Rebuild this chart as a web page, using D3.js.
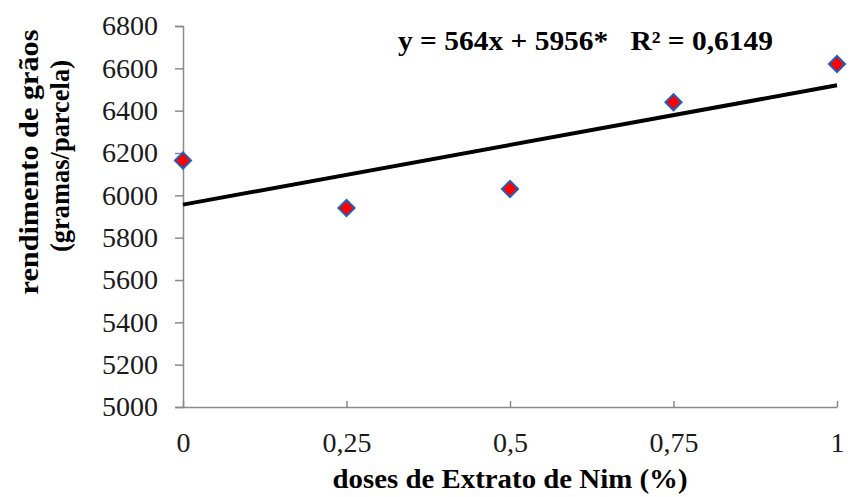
<!DOCTYPE html>
<html>
<head>
<meta charset="utf-8">
<script src="https://cdn.jsdelivr.net/npm/d3@7"></script>
<style>
  body { margin: 0; background: #fff; }
  svg { display: block; }
  svg text { font-family: "Liberation Serif", "Times New Roman", serif; }
</style>
</head>
<body>
<div id="chart"></div>
<script>
// data
const doses = [0, 0.25, 0.5, 0.75, 1];
const rendimento = [6165, 5940, 6030, 6440, 6620];
const xTicks = [0, 0.25, 0.5, 0.75, 1];
const xTickLabels = ["0", "0,25", "0,5", "0,75", "1"];
const yTicks = [5000, 5200, 5400, 5600, 5800, 6000, 6200, 6400, 6600, 6800];
const slope = 564;
const intercept = 5956;
const equationText = "y = 564x + 5956*   R² = 0,6149";

const width = 856, height = 497;
const margin = { top: 26, right: 19, bottom: 90, left: 183 };

const svg = d3.select("#chart").append("svg")
    .attr("width", width)
    .attr("height", height);

const x = d3.scaleLinear()
    .domain([0, 1])
    .range([margin.left, width - margin.right]);

const y = d3.scaleLinear()
    .domain([5000, 6800])
    .range([height - margin.bottom, margin.top]);

const axisColor = "#8a8a8a";

// y axis
const yAxis = svg.append("g")
    .attr("transform", "translate(" + margin.left + ",0)")
    .call(d3.axisLeft(y).tickValues(yTicks).tickFormat(d3.format("d")).tickSize(8).tickPadding(17));
yAxis.attr("font-family", null);
yAxis.select(".domain").attr("stroke", axisColor).attr("stroke-width", 1.5);
yAxis.selectAll(".tick line").attr("stroke", axisColor).attr("stroke-width", 1.5);
yAxis.selectAll(".tick text")
    .attr("font-size", 28)
    .attr("fill", "#1a1a1a");

// x axis (ticks pointing up)
const xAxis = svg.append("g")
    .attr("transform", "translate(0," + (height - margin.bottom) + ")")
    .call(d3.axisBottom(x).tickValues(xTicks).tickFormat((d, i) => xTickLabels[i]).tickSizeInner(-6).tickSizeOuter(0));
xAxis.attr("font-family", null);
xAxis.select(".domain").attr("stroke", axisColor).attr("stroke-width", 1.5);
xAxis.selectAll(".tick line").attr("stroke", axisColor).attr("stroke-width", 1.5);
xAxis.selectAll(".tick text")
    .attr("y", 45)
    .attr("dy", null)
    .attr("font-size", 28)
    .attr("fill", "#1a1a1a");

// trend line
svg.append("line")
    .attr("x1", x(0))
    .attr("y1", y(intercept))
    .attr("x2", x(1))
    .attr("y2", y(slope + intercept))
    .attr("stroke", "#000")
    .attr("stroke-width", 4);

// points
svg.selectAll(".pt")
    .data(doses)
    .join("path")
    .attr("class", "pt")
    .attr("d", d3.symbol(d3.symbolSquare, 130))
    .attr("transform", (d, i) => "translate(" + x(d) + "," + y(rendimento[i]) + ") rotate(45)")
    .attr("fill", "#ff0000")
    .attr("stroke", "#1f5fbf")
    .attr("stroke-width", 2);

// equation
svg.append("text")
    .attr("x", 398)
    .attr("y", 50)
    .attr("font-size", 27)
    .attr("font-weight", "bold")
    .attr("textLength", 375)
    .attr("lengthAdjust", "spacingAndGlyphs")
    .attr("xml:space", "preserve")
    .style("white-space", "pre")
    .text(equationText);

// x title
svg.append("text")
    .attr("x", 510)
    .attr("y", 488)
    .attr("text-anchor", "middle")
    .attr("font-size", 27)
    .attr("font-weight", "bold")
    .attr("textLength", 355)
    .attr("lengthAdjust", "spacingAndGlyphs")
    .text("doses de Extrato de Nim (%)");

// y title
svg.append("text")
    .attr("transform", "translate(38,162) rotate(-90)")
    .attr("text-anchor", "middle")
    .attr("font-size", 27)
    .attr("font-weight", "bold")
    .attr("textLength", 265)
    .attr("lengthAdjust", "spacingAndGlyphs")
    .text("rendimento de grãos");
svg.append("text")
    .attr("transform", "translate(69,156) rotate(-90)")
    .attr("text-anchor", "middle")
    .attr("font-size", 27)
    .attr("font-weight", "bold")
    .attr("textLength", 192)
    .attr("lengthAdjust", "spacingAndGlyphs")
    .text("(gramas/parcela)");
</script>
</body>
</html>
